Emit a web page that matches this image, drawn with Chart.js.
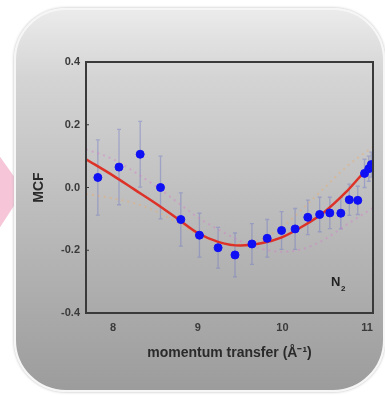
<!DOCTYPE html>
<html>
<head>
<meta charset="utf-8">
<script src="https://cdn.jsdelivr.net/npm/chart.js@4.4.1/dist/chart.umd.min.js"></script>
<style>
  html, body { margin: 0; padding: 0; background: #fff; }
  #wrap { position: relative; width: 385px; height: 396px; overflow: hidden; }
  #arrow {
    position: absolute; left: 0; top: 152px; width: 24px; height: 80px;
    background: #f6c6d8;
    clip-path: polygon(0 6%, 100% 48%, 0 94%);
  }
  #box {
    position: absolute; left: 14px; top: 8px; width: 367px; height: 380px;
    border-radius: 52px;
    border: 2px solid #f6f6f6;
    box-shadow: 0 0 3px #b8b8b8;
    background: linear-gradient(#ebebeb 0%, #d4d4d4 18%, #c2c2c2 45%, #adadad 75%, #9c9c9c 100%);
  }
  canvas { position: absolute; left: 0; top: 0; }
</style>
</head>
<body>
<div id="wrap">
  <div id="arrow"></div>
  <div id="box"></div>
  <canvas id="mcfChart" width="385" height="396"></canvas>
</div>
<script>
// measured points (momentum transfer, MCF) and their error bars
const qData = [7.82, 8.07, 8.32, 8.56, 8.80, 9.02, 9.24, 9.44, 9.64, 9.82, 9.99,
               10.15, 10.30, 10.44, 10.56, 10.69, 10.79, 10.89, 10.97, 11.02, 11.05];
const mcfData = [0.032, 0.065, 0.106, 0.0, -0.102, -0.152, -0.192, -0.215, -0.18, -0.162, -0.137,
                 -0.132, -0.095, -0.086, -0.081, -0.082, -0.039, -0.041, 0.045, 0.06, 0.073];
const mcfErr = [0.12, 0.12, 0.105, 0.1, 0.085, 0.07, 0.065, 0.07, 0.065, 0.06, 0.06,
                0.065, 0.055, 0.055, 0.05, 0.05, 0.05, 0.045, 0.045, 0.04, 0.04];

// red fitted curve
const fitQ = [7.68, 8.0, 8.25, 8.5, 8.75, 9.0, 9.25, 9.5, 9.75, 10.0, 10.25, 10.5, 10.75, 11.0, 11.07];
const fitMcf = [0.09, 0.038, -0.006, -0.05, -0.097, -0.145, -0.174, -0.185, -0.178, -0.158, -0.122, -0.077, -0.015, 0.058, 0.072];

// faint dotted model curves
const modelQ = [7.68, 8.0, 8.25, 8.5, 8.75, 9.0, 9.25, 9.5, 9.75, 10.0, 10.25, 10.5, 10.75, 11.07];
const pinkMcf = [0.122, 0.09, 0.05, 0.005, -0.045, -0.095, -0.135, -0.17, -0.195, -0.205, -0.195, -0.165, -0.12, -0.065];
const orangeMcf = [-0.02, -0.035, -0.05, -0.075, -0.11, -0.15, -0.175, -0.18, -0.165, -0.125, -0.065, 0.0, 0.065, 0.13];

const yTicks = [-0.4, -0.2, 0.0, 0.2, 0.4];
const xTicks = [8, 9, 10, 11];

const toXY = (xs, ys) => xs.map((x, i) => ({ x: x, y: ys[i] }));

// error bars + frame, drawn through the chart scales
const errorBars = {
    id: 'errorBars',
    beforeDatasetsDraw(chart) {
        const { ctx, scales: { x, y } } = chart;
        ctx.save();
        ctx.strokeStyle = 'rgba(110,120,195,0.45)';
        ctx.lineWidth = 1.3;
        qData.forEach((q, i) => {
            const px = x.getPixelForValue(q);
            const y1 = y.getPixelForValue(mcfData[i] + mcfErr[i]);
            const y2 = y.getPixelForValue(mcfData[i] - mcfErr[i]);
            ctx.beginPath();
            ctx.moveTo(px, y1); ctx.lineTo(px, y2);
            ctx.moveTo(px - 2, y1); ctx.lineTo(px + 2, y1);
            ctx.moveTo(px - 2, y2); ctx.lineTo(px + 2, y2);
            ctx.stroke();
        });
        ctx.restore();
    },
    afterDraw(chart) {
        const { ctx, chartArea: a, scales: { y } } = chart;
        ctx.save();
        ctx.strokeStyle = '#3a3a3a';
        ctx.lineWidth = 2;
        ctx.strokeRect(a.left, a.top, a.right - a.left, a.bottom - a.top);
        // small inner ticks on the y axis
        ctx.lineWidth = 1;
        yTicks.forEach(v => {
            const py = y.getPixelForValue(v);
            ctx.beginPath(); ctx.moveTo(a.left, py); ctx.lineTo(a.left + 3, py); ctx.stroke();
        });
        // N2 label
        ctx.fillStyle = '#222';
        ctx.textBaseline = 'middle';
        ctx.font = 'bold 13px "Liberation Sans", Arial, sans-serif';
        ctx.fillText('N', 331, 282);
        ctx.font = 'bold 8px "Liberation Sans", Arial, sans-serif';
        ctx.fillText('2', 341, 289);
        ctx.restore();
    }
};

const font = { family: '"Liberation Sans", Arial, sans-serif', weight: 'bold' };

window.onload = function () {
    const ctx = document.getElementById('mcfChart').getContext('2d');
    new Chart(ctx, {
        type: 'scatter',
        data: {
            datasets: [
                {
                    label: 'data',
                    data: toXY(qData, mcfData),
                    backgroundColor: '#1010f4',
                    borderColor: '#1010f4',
                    pointRadius: 4,
                    pointHoverRadius: 4,
                    order: 0
                },
                {
                    label: 'fit',
                    type: 'line',
                    data: toXY(fitQ, fitMcf),
                    borderColor: '#dc3228',
                    borderWidth: 2.5,
                    pointRadius: 0,
                    cubicInterpolationMode: 'monotone',
                    fill: false,
                    order: 1
                },
                {
                    label: 'model a',
                    type: 'line',
                    data: toXY(modelQ, pinkMcf),
                    borderColor: 'rgba(215,120,200,0.4)',
                    borderWidth: 2,
                    borderDash: [2, 4],
                    pointRadius: 0,
                    cubicInterpolationMode: 'monotone',
                    order: 2
                },
                {
                    label: 'model b',
                    type: 'line',
                    data: toXY(modelQ, orangeMcf),
                    borderColor: 'rgba(240,170,100,0.4)',
                    borderWidth: 2,
                    borderDash: [2, 4],
                    pointRadius: 0,
                    cubicInterpolationMode: 'monotone',
                    order: 2
                }
            ]
        },
        options: {
            responsive: false,
            animation: false,
            layout: { padding: { top: 62, right: 12, bottom: 0, left: 0 } },
            plugins: { legend: { display: false }, tooltip: { enabled: false } },
            scales: {
                x: {
                    type: 'linear',
                    min: 7.68,
                    max: 11.07,
                    afterBuildTicks: (s) => { s.ticks = xTicks.map(v => ({ value: v })); },
                    afterFit: (s) => { s.height = 83; },
                    grid: { display: false, drawTicks: false },
                    border: { display: false },
                    ticks: { padding: 8, color: '#3a3a3a', font: { ...font, size: 11 } },
                    title: {
                        display: true,
                        text: 'momentum transfer (Å⁻¹)',
                        color: '#2a2a2a',
                        font: { ...font, size: 14 },
                        padding: { top: 0, bottom: 34 }
                    }
                },
                y: {
                    min: -0.4,
                    max: 0.4,
                    afterBuildTicks: (s) => { s.ticks = yTicks.map(v => ({ value: v })); },
                    afterFit: (s) => { s.width = 86; },
                    grid: { display: false, drawTicks: false },
                    border: { display: false },
                    ticks: {
                        padding: 6,
                        color: '#3a3a3a',
                        font: { ...font, size: 11 },
                        callback: (v) => v.toFixed(1)
                    },
                    title: {
                        display: true,
                        text: 'MCF',
                        color: '#2a2a2a',
                        font: { ...font, size: 14 },
                        padding: { top: 31, bottom: 0 }
                    }
                }
            }
        },
        plugins: [errorBars]
    });
};
</script>
</body>
</html>
